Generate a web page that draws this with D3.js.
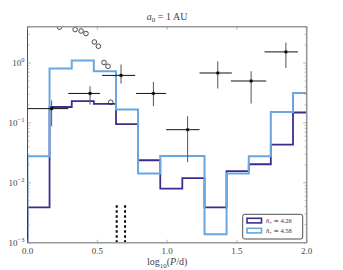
<!DOCTYPE html>
<html>
<head>
<meta charset="utf-8">
<script src="https://cdn.jsdelivr.net/npm/d3@7"></script>
<style>
  body { margin: 0; background: #fff; }
  svg { display: block; }
  text { font-family: "Liberation Serif", "DejaVu Serif", serif; }
</style>
</head>
<body>
<svg id="chart" width="343" height="270"></svg>
<script>
// histogram bin edges in log10(P/d)
var binEdges = [0, 0.158, 0.317, 0.475, 0.634, 0.792, 0.951, 1.109, 1.268, 1.426, 1.585, 1.743, 1.902, 2.06];
// n* ~ 4.26 (dark) and n* ~ 4.58 (light)
var darkVals  = [0.0039, 0.184, 0.23, 0.207, 0.095, 0.0238, 0.008, 0.012, 0.0039, 0.0157, 0.0204, 0.0434, 0.149];
var lightVals = [0.0277, 0.806, 1.1, 0.73, 0.167, 0.0143, 0.028, 0.028, 0.00138, 0.0143, 0.0277, 0.152, 0.316];

// observed points with errorbars
var obsX    = [0.173, 0.448, 0.67, 0.902, 1.147, 1.363, 1.602, 1.851];
var obsXlo  = [0.0, 0.292, 0.534, 0.778, 0.993, 1.232, 1.457, 1.698];
var obsXhi  = [0.292, 0.52, 0.771, 0.993, 1.232, 1.464, 1.71, 1.937];
var obsY    = [0.173, 0.31, 0.62, 0.31, 0.077, 0.68, 0.5, 1.53];
var obsYlo  = [0.0877, 0.202, 0.453, 0.189, 0.0222, 0.374, 0.21, 0.826];
var obsYhi  = [0.238, 0.408, 0.94, 0.482, 0.129, 1.067, 0.727, 2.19];

// open circles
var circX = [0.229, 0.341, 0.384, 0.419, 0.479, 0.508, 0.548, 0.577, 0.596];
var circY = [3.95, 3.61, 3.42, 3.1, 2.24, 1.9, 1.02, 0.88, 0.221];

// vertical dotted markers
var markX = [0.639, 0.699];
var markTop = 0.0045;

var xTicks = [0, 0.5, 1.0, 1.5, 2.0];
var yTicks = [1e-3, 1e-2, 1e-1, 1e0];
var yExp = ["\u22123", "\u22122", "\u22121", "0"];
var legendLabels = ["4.26", "4.58"];

var darkColor = "#3b2d8e", lightColor = "#69a7de";

var margin = {left: 27.5, right: 36.3, top: 26.7, bottom: 27.3};
var W = 343, H = 270;
var svg = d3.select("#chart");

var x = d3.scaleLinear().domain([0, 2]).range([margin.left, W - margin.right]);
var y = d3.scaleLog().domain([1e-3, 4.03]).range([H - margin.bottom, margin.top]);

svg.append("clipPath").attr("id", "clip")
  .append("rect")
  .attr("x", x(0)).attr("y", y.range()[1])
  .attr("width", x(2) - x(0)).attr("height", y.range()[0] - y.range()[1]);

var plot = svg.append("g").attr("clip-path", "url(#clip)");

// histograms as steps
function stepPath(vals) {
  var pts = [[binEdges[0], 1e-4]];
  vals.forEach(function(v, i) {
    pts.push([binEdges[i], v]);
    pts.push([binEdges[i + 1], v]);
  });
  pts.push([binEdges[binEdges.length - 1], 1e-4]);
  return d3.line().x(function(d) { return x(d[0]); }).y(function(d) { return y(d[1]); })(pts);
}

plot.append("path").attr("d", stepPath(darkVals))
  .attr("fill", "none").attr("stroke", darkColor).attr("stroke-width", 1.8);
plot.append("path").attr("d", stepPath(lightVals))
  .attr("fill", "none").attr("stroke", lightColor).attr("stroke-width", 2);

// dotted markers
markX.forEach(function(m) {
  plot.append("line")
    .attr("x1", x(m)).attr("x2", x(m))
    .attr("y1", y(1e-3)).attr("y2", y(markTop))
    .attr("stroke", "#000").attr("stroke-width", 2)
    .attr("stroke-dasharray", "2.5,2.5");
});

// open circles
plot.selectAll(".oc").data(circX).enter().append("circle")
  .attr("cx", function(d) { return x(d); })
  .attr("cy", function(d, i) { return y(circY[i]); })
  .attr("r", 2.3)
  .attr("fill", "none").attr("stroke", "#222").attr("stroke-width", 0.8);

// errorbar points
obsX.forEach(function(d, i) {
  plot.append("line")
    .attr("x1", x(obsXlo[i])).attr("x2", x(obsXhi[i]))
    .attr("y1", y(obsY[i])).attr("y2", y(obsY[i]))
    .attr("stroke", "#111").attr("stroke-width", 1);
  plot.append("line")
    .attr("x1", x(d)).attr("x2", x(d))
    .attr("y1", y(obsYlo[i])).attr("y2", y(obsYhi[i]))
    .attr("stroke", "#555").attr("stroke-width", 1);
  plot.append("path")
    .attr("transform", "translate(" + x(d) + "," + y(obsY[i]) + ")")
    .attr("d", d3.symbol().type(d3.symbolAsterisk).size(12)())
    .attr("stroke", "#000").attr("stroke-width", 0.5).attr("fill", "none");
  plot.append("rect")
    .attr("x", x(d) - 1.2).attr("y", y(obsY[i]) - 1.2)
    .attr("width", 2.4).attr("height", 2.4).attr("fill", "#000");
});

// frame
var x0 = x(0), x1 = x(2), yb = y.range()[0], yt = y.range()[1];
svg.append("line").attr("x1", x0).attr("x2", x1).attr("y1", yt).attr("y2", yt)
  .attr("stroke", "#999").attr("stroke-width", 1.6);
svg.append("line").attr("x1", x0).attr("x2", x1).attr("y1", yb).attr("y2", yb)
  .attr("stroke", "#999").attr("stroke-width", 1.6);
svg.append("line").attr("x1", x1).attr("x2", x1).attr("y1", yt).attr("y2", yb)
  .attr("stroke", "#999").attr("stroke-width", 1.6);
svg.append("line").attr("x1", x0).attr("x2", x0).attr("y1", yt).attr("y2", yb)
  .attr("stroke", "#222").attr("stroke-width", 0.8);

// ticks
var tickG = svg.append("g").attr("stroke", "#888").attr("stroke-width", 0.6);
xTicks.forEach(function(t) {
  tickG.append("line").attr("x1", x(t)).attr("x2", x(t)).attr("y1", yb).attr("y2", yb - 3);
  tickG.append("line").attr("x1", x(t)).attr("x2", x(t)).attr("y1", yt).attr("y2", yt + 3);
});
y.ticks().forEach(function(t) {
  var major = yTicks.indexOf(t) >= 0;
  var len = major ? 3.5 : 2;
  tickG.append("line").attr("x1", x0).attr("x2", x0 + len).attr("y1", y(t)).attr("y2", y(t));
  tickG.append("line").attr("x1", x1).attr("x2", x1 - len).attr("y1", y(t)).attr("y2", y(t));
});

// tick labels
svg.append("g").selectAll("text").data(xTicks).enter().append("text")
  .attr("x", function(d) { return x(d); }).attr("y", yb + 11)
  .attr("text-anchor", "middle").attr("font-size", 9).attr("fill", "#444")
  .text(function(d) { return d3.format(".1f")(d); });

yTicks.forEach(function(t, i) {
  var tx = svg.append("text")
    .attr("x", x0 - 3).attr("y", y(t) + 3)
    .attr("text-anchor", "end").attr("font-size", 9).attr("fill", "#444");
  tx.append("tspan").text("10");
  tx.append("tspan").attr("dy", -4).attr("font-size", 6.5).text(yExp[i]);
});

// title
var title = svg.append("text").attr("x", (x0 + x1) / 2).attr("y", 20)
  .attr("text-anchor", "middle").attr("font-size", 10).attr("fill", "#444");
title.append("tspan").attr("font-style", "italic").text("a");
title.append("tspan").attr("dy", 2).attr("font-size", 7).text("0");
title.append("tspan").attr("dy", -2).text(" = 1 AU");

// x label
var xl = svg.append("text").attr("x", (x0 + x1) / 2).attr("y", 265)
  .attr("text-anchor", "middle").attr("font-size", 10).attr("fill", "#444");
xl.append("tspan").text("log");
xl.append("tspan").attr("dy", 2.5).attr("font-size", 7).text("10");
xl.append("tspan").attr("dy", -2.5).text("(");
xl.append("tspan").attr("font-style", "italic").text("P");
xl.append("tspan").text("/d)");

// legend
var lg = svg.append("g");
lg.append("rect").attr("x", 242.7).attr("y", 214.3).attr("width", 60).attr("height", 24.7)
  .attr("rx", 2).attr("fill", "#fff").attr("stroke", "#222").attr("stroke-width", 0.8);
[darkColor, lightColor].forEach(function(c, i) {
  var ly = 218.3 + i * 10;
  lg.append("rect").attr("x", 247).attr("y", ly).attr("width", 14.5).attr("height", 4.6)
    .attr("fill", "none").attr("stroke", c).attr("stroke-width", 1.6);
  var t = lg.append("text").attr("x", 266).attr("y", ly + 4.8)
    .attr("font-size", 6.5).attr("fill", "#333");
  t.append("tspan").attr("font-style", "italic").text("n\u0304");
  t.append("tspan").attr("dy", 1.5).attr("font-size", 5).text("*");
  t.append("tspan").attr("dy", -1.5).text(" \u2243 " + legendLabels[i]);
});
</script>
</body>
</html>
